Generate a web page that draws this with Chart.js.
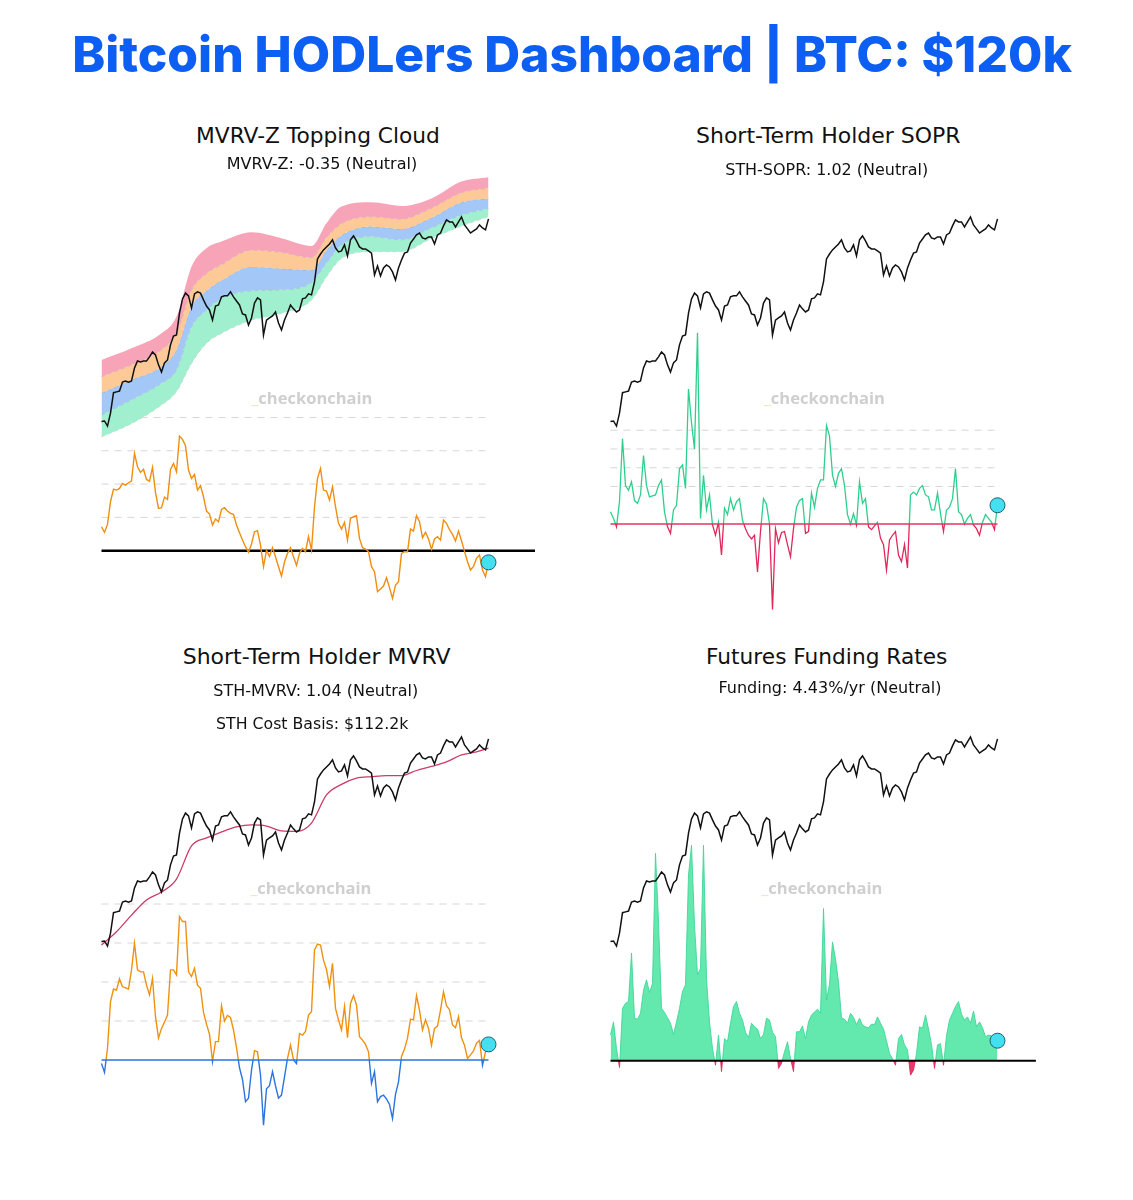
<!DOCTYPE html>
<html><head><meta charset="utf-8">
<script src="https://cdn.jsdelivr.net/npm/chart.js@4.4.1/dist/chart.umd.min.js"></script>
<style>
html,body{margin:0;padding:0;background:#fff;}
body{width:1133px;height:1200px;position:relative;overflow:hidden;}
.t{position:absolute;white-space:nowrap;line-height:1;margin:0;padding:0;}
canvas{position:absolute;}
</style></head><body>
<script>
// ---------------- DATA ----------------
// BTC price ($k), one value every ~5.5 days, Oct 2023 -> Oct 2025
const price = [27.3,27.4,26.4,29.0,33.7,33.9,34.1,36.4,36.7,36.4,
36.7,40.4,42.5,42.2,42.5,42.5,43.8,45.4,44.4,41.3,
39.2,41.9,42.8,47.8,51.0,51.4,60.3,66.9,69.8,68.4,
62.6,69.4,70.4,69.8,66.4,63.5,61.7,57.3,63.5,64.0,
67.9,68.4,68.4,70.4,67.9,65.9,64.0,59.9,59.5,55.3,
58.2,64.9,67.4,66.4,51.4,57.3,58.2,59.1,60.8,56.1,
53.3,57.3,60.3,64.0,62.2,60.8,61.7,66.9,67.4,69.4,
68.9,75.7,89.6,92.9,95.7,97.8,100.0,103.0,97.1,94.3,
95.0,99.3,91.6,103.0,106.0,102.2,97.8,96.4,96.4,95.0,
93.5,79.7,85.1,79.1,83.9,85.8,84.5,81.5,76.8,83.9,
88.9,93.5,94.3,100.6,103.7,106.8,108.3,104.5,103.7,105.2,
105.2,100.0,106.8,108.3,114.1,119.2,117.4,117.4,113.2,117.4,
121.8,114.9,111.6,108.3,110.0,111.6,114.9,112.4,110.8,120.1];

const mvrvZ = [0.72,0.55,0.79,1.47,1.85,1.82,1.87,2.02,1.97,2.04,
2.09,2.92,2.52,2.35,2.44,2.14,2.09,2.50,1.75,1.27,
1.29,1.61,1.54,2.44,2.62,2.37,3.44,3.34,3.15,2.42,
2.17,2.29,1.82,1.95,1.62,1.19,1.10,0.77,0.95,0.87,
1.24,1.29,1.19,1.12,1.09,0.77,0.54,0.32,0.12,-0.05,
0.20,0.57,0.60,0.17,-0.48,0.01,-0.17,0.09,-0.18,-0.48,
-0.76,-0.34,-0.08,0.09,-0.18,-0.44,-0.08,0.07,-0.03,0.42,
0.02,1.32,2.17,2.47,1.82,1.79,1.52,1.92,1.32,0.82,
0.65,0.85,0.32,0.97,1.02,1.05,0.37,0.09,0.05,-0.03,
-0.48,-0.63,-1.23,-1.15,-1.06,-0.81,-1.11,-1.43,-1.03,-0.93,
-0.08,-0.03,-0.03,0.65,0.59,1.05,0.87,0.39,0.55,0.35,
0.04,0.35,0.42,0.32,0.92,0.82,0.63,0.49,0.29,0.59,
0.30,-0.02,-0.33,-0.58,-0.47,-0.23,-0.13,-0.58,-0.78,-0.35];

const sthSopr = [1.013,1.006,0.997,1.024,1.091,1.041,1.036,1.045,1.025,1.022,
1.031,1.073,1.041,1.029,1.030,1.031,1.041,1.047,1.013,0.997,
0.990,1.015,1.020,1.059,1.063,1.038,1.144,1.108,1.080,1.204,
1.006,1.052,1.015,1.031,0.999,0.988,1.002,0.967,1.017,1.010,
1.027,1.015,1.024,1.027,1.004,0.995,0.988,0.984,0.988,0.949,
0.992,1.027,1.021,1.000,0.909,0.995,0.980,0.991,0.992,0.978,
0.965,0.995,1.018,1.025,1.027,0.990,0.992,1.033,1.018,1.038,
1.047,1.047,1.105,1.094,1.052,1.040,1.054,1.059,1.041,1.010,
1.000,1.011,0.999,1.045,1.022,1.027,0.997,0.994,0.998,1.002,
0.985,0.978,0.951,0.983,0.988,0.992,0.967,0.960,0.978,0.953,
1.031,1.034,1.031,1.038,1.041,1.031,1.029,1.015,1.015,1.033,
1.011,0.992,1.015,1.018,1.027,1.059,1.013,1.010,1.000,1.006,
1.010,0.999,0.995,0.988,1.002,1.010,1.006,1.002,0.994,1.020];

const sthMvrv = [0.991,0.968,1.030,1.150,1.182,1.179,1.208,1.188,1.185,1.182,
1.231,1.299,1.231,1.226,1.226,1.192,1.167,1.209,1.111,1.056,
1.081,1.097,1.115,1.231,1.231,1.218,1.368,1.355,1.355,1.226,
1.214,1.235,1.192,1.184,1.122,1.092,1.066,0.996,1.047,1.047,
1.139,1.100,1.114,1.109,1.077,1.032,0.980,0.950,0.893,0.902,
0.974,1.024,1.021,0.962,0.833,0.926,0.934,0.970,0.934,0.902,
0.910,0.957,1.004,1.038,1.000,0.991,1.068,1.064,1.073,1.115,
1.124,1.282,1.297,1.295,1.256,1.232,1.188,1.248,1.132,1.103,
1.077,1.137,1.057,1.145,1.165,1.141,1.060,1.051,1.040,1.021,
0.940,0.970,0.893,0.906,0.910,0.900,0.886,0.850,0.912,0.944,
1.009,1.028,1.056,1.105,1.103,1.165,1.128,1.077,1.103,1.081,
1.038,1.081,1.087,1.128,1.175,1.139,1.129,1.090,1.083,1.111,
1.057,1.038,1.004,1.013,1.023,1.043,1.050,0.987,1.021,1.040];

// Funding rate, %/yr annualised
const funding = [5.7,8.6,2.7,-1.5,11.6,12.7,13.1,23.8,9.4,9.2,
10.5,15.6,17.9,15.1,17.1,45.9,30.8,11.6,10.7,9.5,
8.3,5.8,8.6,11.6,15.3,16.8,41.1,47.7,30.0,19.0,
20.4,47.7,18.2,8.6,2.7,-1.0,5.7,-2.4,4.9,4.2,
8.3,12.0,13.1,10.5,9.0,6.3,5.1,8.3,7.5,7.0,
4.9,5.8,9.4,9.0,6.3,5.3,-1.7,-0.6,2.0,4.2,
0.5,-2.4,6.4,6.4,7.7,4.8,8.6,10.1,10.8,11.4,
10.5,33.7,13.4,17.0,26.3,22.5,17.5,9.5,9.2,8.3,
10.5,9.6,8.0,9.4,7.9,7.5,7.3,8.1,8.0,9.7,
8.3,7.0,4.4,1.6,0.5,-1.0,4.9,5.8,3.5,2.4,
-3.2,-2.1,1.6,7.5,7.2,10.1,7.0,3.6,-1.7,3.5,
3.8,-1.0,5.5,9.0,10.5,12.0,13.1,10.3,9.0,9.7,
8.3,11.0,7.5,8.6,7.3,5.3,5.7,5.5,4.8,4.43];

// STH cost basis ($k) at selected sample indices
const costIdx   = [0,5,10,15,20,25,30,35,40,45,50,55,60,65,70,75,80,85,90,95,100,105,110,115,120,125,129];
const costBasis = [26.6,29.3,33.1,37.0,39.2,43.1,54.9,58.2,60.8,63.1,64.0,63.5,61.3,61.1,64.9,79.7,86.1,90.1,91.1,91.8,91.8,95.3,98.2,101.5,106.8,109.2,112.2];

// MVRV-Z topping cloud: price levels ($k) of band edges (Z=0..4) at sample indices
const cloudIdx = [0,10,20,25,30,35,40,50,60,70,75,80,90,100,110,120,129];
const cloudZ4 = [42.8,46.6,52.0,58.8,84.7,96.9,101.7,108.9,104.2,98.5,116.3,131.4,135.6,132.0,139.5,157.7,162.8];
const cloudZ3 = [37.9,41.3,46.1,52.0,71.4,80.5,86.0,95.5,94.0,90.5,104.8,116.0,122.0,120.0,130.0,145.5,150.2];
const cloudZ2 = [33.6,37.0,40.8,46.1,63.2,71.0,76.5,84.5,83.5,82.5,95.5,106.5,113.5,111.5,121.0,135.5,139.7];
const cloudZ1 = [28.6,32.0,36.1,39.8,54.6,61.7,67.2,71.0,71.5,75.5,87.0,99.3,105.5,103.0,112.5,123.5,129.8];
const cloudZ0 = [24.4,26.9,30.8,34.0,41.8,48.4,52.0,57.3,60.2,66.4,78.7,90.0,94.5,94.5,104.2,114.0,122.1];

// reference / grid levels
const zGrid    = [1,2,3,4];
const soprGrid = [1.04,1.06,1.08,1.10];
const mvrvGrid = [1.1,1.2,1.3,1.4];

// current readings
const nowZ = -0.35, nowSopr = 1.02, nowMvrv = 1.04, nowFunding = 4.43, nowCost = 112.2, nowPrice = 120;

const mainTitle = 'Bitcoin HODLers Dashboard | BTC: $' + nowPrice + 'k';
const panelTitles = ['MVRV-Z Topping Cloud','Short-Term Holder SOPR','Short-Term Holder MVRV','Futures Funding Rates'];
const panelSubs = [
  ['MVRV-Z: ' + nowZ.toFixed(2) + ' (Neutral)'],
  ['STH-SOPR: ' + nowSopr.toFixed(2) + ' (Neutral)'],
  ['STH-MVRV: ' + nowMvrv.toFixed(2) + ' (Neutral)', 'STH Cost Basis: $' + nowCost.toFixed(1) + 'k'],
  ['Funding: ' + nowFunding.toFixed(2) + '%/yr (Neutral)']
];
const watermark = 'checkonchain';

// ---------------- LAYOUT ----------------
const W = 460, H = 470, PX = 3, OFF = 10.5;
const PMIN = 5.943, PMAX = 184.7;
const lastIdx = price.length - 1;

function xy(arr){ return arr.map((v,i)=>({x:i,y:v})); }
function xyAt(idx, arr){ return idx.map((x,k)=>({x:x,y:arr[k]})); }
function hline(level, x0, x1){ return [{x:x0,y:level},{x:x1,y:level}]; }

function splitColor(axisId, level, upper, lower){
  return function(ctx){
    const chart = ctx.chart; const area = chart.chartArea;
    if(!area || !chart.scales[axisId]) return upper;
    const yp = chart.scales[axisId].getPixelForValue(level);
    let t = (yp - area.top)/(area.bottom - area.top);
    t = Math.min(1, Math.max(0, t));
    const g = chart.ctx.createLinearGradient(0, area.top, 0, area.bottom);
    g.addColorStop(0, upper); g.addColorStop(t, upper); g.addColorStop(t, lower); g.addColorStop(1, lower);
    return g;
  };
}

function makeChart(left, top, y2min, y2max, datasets){
  const c = document.createElement('canvas');
  c.width = W; c.height = H;
  c.style.left = left + 'px'; c.style.top = top + 'px';
  c.style.width = W + 'px'; c.style.height = H + 'px';
  document.body.appendChild(c);
  new Chart(c.getContext('2d'), {
    type: 'line',
    data: { datasets: datasets },
    options: {
      responsive:false, animation:false, events:[], devicePixelRatio: window.devicePixelRatio || 1,
      layout:{padding:0, autoPadding:false},
      plugins:{legend:{display:false}, tooltip:{enabled:false}},
      elements:{point:{radius:0, hoverRadius:0}, line:{tension:0}},
      scales:{
        x:{type:'linear', display:false, min:-OFF/PX, max:(W-OFF)/PX},
        y:{type:'logarithmic', display:false, min:PMIN, max:PMAX, bounds:'data'},
        y2:{type:'linear', display:false, min:y2min, max:y2max, bounds:'data'}
      }
    }
  });
}

function marker(v){
  return {data:[{x:lastIdx, y:v}], yAxisID:'y2', showLine:false, pointRadius:7.5, clip:false,
    pointBackgroundColor:'#44e0f0', pointBorderColor:'#1c5f78', pointBorderWidth:1};
}
function priceSet(){
  return {data:xy(price), yAxisID:'y', borderColor:'#111', borderWidth:1.5, pointRadius:0};
}
function gridSets(levels){
  return levels.map(l=>({data:hline(l,0,lastIdx), yAxisID:'y2', borderColor:'#d6d6d6',
    borderWidth:1, borderDash:[7,6], pointRadius:0}));
}
function edge(arr, fillColor, dashed){
  return {data:xyAt(cloudIdx, arr), yAxisID:'y', cubicInterpolationMode:'monotone', pointRadius:0,
    borderColor: dashed ? 'rgba(120,130,140,0.45)' : 'rgba(0,0,0,0)', borderWidth: dashed ? 0.8 : 0,
    borderDash:[4,3], fill: fillColor ? '+1' : false, backgroundColor: fillColor || 'rgba(0,0,0,0)'};
}

// Panel 1: MVRV-Z topping cloud
makeChart(91, 160, -2.381, 11.73, [
  marker(nowZ),
  priceSet(),
  {data:xy(mvrvZ), yAxisID:'y2', borderColor:'#f08e10', borderWidth:1.4},
  {data:hline(0,0,144.5), yAxisID:'y2', borderColor:'#000', borderWidth:2.4},
  ...gridSets(zGrid),
  edge(cloudZ4, '#f8a4b8', false),
  edge(cloudZ3, '#fcc997', true),
  edge(cloudZ2, '#a3c7f6', true),
  edge(cloudZ1, '#a0efce', true),
  edge(cloudZ0, null, true)
]);

// Panel 2: STH-SOPR
makeChart(600, 160, 0.8870, 1.3881, [
  marker(nowSopr),
  priceSet(),
  {data:hline(1,0,lastIdx), yAxisID:'y2', borderColor:'#e2365f', borderWidth:1.4},
  {data:xy(sthSopr), yAxisID:'y2', borderColor:splitColor('y2',1,'#2dcf8c','#e0285a'), borderWidth:1.3},
  ...gridSets(soprGrid)
]);

// Panel 3: STH-MVRV
makeChart(91, 680, 0.7692, 1.9744, [
  marker(nowMvrv),
  priceSet(),
  {data:xyAt(costIdx, costBasis), yAxisID:'y', borderColor:'#cc3c66', borderWidth:1.3, cubicInterpolationMode:'monotone'},
  {data:hline(1,0,lastIdx), yAxisID:'y2', borderColor:'#2a74e0', borderWidth:1.6},
  {data:xy(sthMvrv), yAxisID:'y2', borderColor:splitColor('y2',1,'#f0900f','#2a74e0'), borderWidth:1.4},
  ...gridSets(mvrvGrid)
]);

// Panel 4: Funding rates
makeChart(600, 680, -19.77, 84.29, [
  marker(nowFunding),
  priceSet(),
  {data:hline(0,0,141.8), yAxisID:'y2', borderColor:'#000', borderWidth:2},
  {data:xy(funding), yAxisID:'y2', borderColor:splitColor('y2',0,'#3fd698','#e0285a'), borderWidth:0.9,
   fill:{target:'origin', above:'#63e8ae', below:'#e8376a'}}
]);

// ---------------- TEXT ----------------
const mctx = document.createElement('canvas').getContext('2d');
function place(s, cx, base, w, fam, wt, color, html){
  mctx.font = wt + ' 100px "' + fam + '"';
  const fs = 100 * w / mctx.measureText(s).width;
  mctx.font = wt + ' ' + fs + 'px "' + fam + '"';
  const m = mctx.measureText(s);
  const asc = m.fontBoundingBoxAscent, desc = m.fontBoundingBoxDescent;
  const baseOff = asc - (asc + desc - fs)/2;
  const d = document.createElement('div');
  d.className = 't';
  d.style.fontFamily = '"' + fam + '"';
  d.style.fontWeight = wt;
  d.style.fontSize = fs + 'px';
  d.style.color = color;
  d.style.left = (cx - m.width/2) + 'px';
  d.style.top = (base - baseOff) + 'px';
  if(html) d.innerHTML = html; else d.textContent = s;
  document.body.appendChild(d);
}
place(mainTitle, 572, 73.3, 1000, 'Inter', 800, '#0d5ef3');
const titlePos = [[318,143.3,244],[828.3,143.3,264.7],[316.7,664,268],[826.7,664.3,241.3]];
panelTitles.forEach((s,i)=>place(s, titlePos[i][0], titlePos[i][1], titlePos[i][2], 'DejaVu Sans', 400, '#111'));
const subPos = [[[322,170,190.7]],[[826.7,175,203]],[[315.8,696.7,205],[312.2,729,192.3]],[[830,693.3,223.4]]];
panelSubs.forEach((arr,i)=>arr.forEach((s,k)=>place(s, subPos[i][k][0], subPos[i][k][1], subPos[i][k][2], 'DejaVu Sans', 400, '#111')));
const wmPos = [[312,405],[824.5,405],[311,895],[822,895]];
wmPos.forEach(p=>place('_' + watermark, p[0], p[1], 121, 'Open Sans', 700, '#cfcfcf',
  '<span style="color:#f4e6b8">_</span>' + watermark));
</script>
</body></html>
